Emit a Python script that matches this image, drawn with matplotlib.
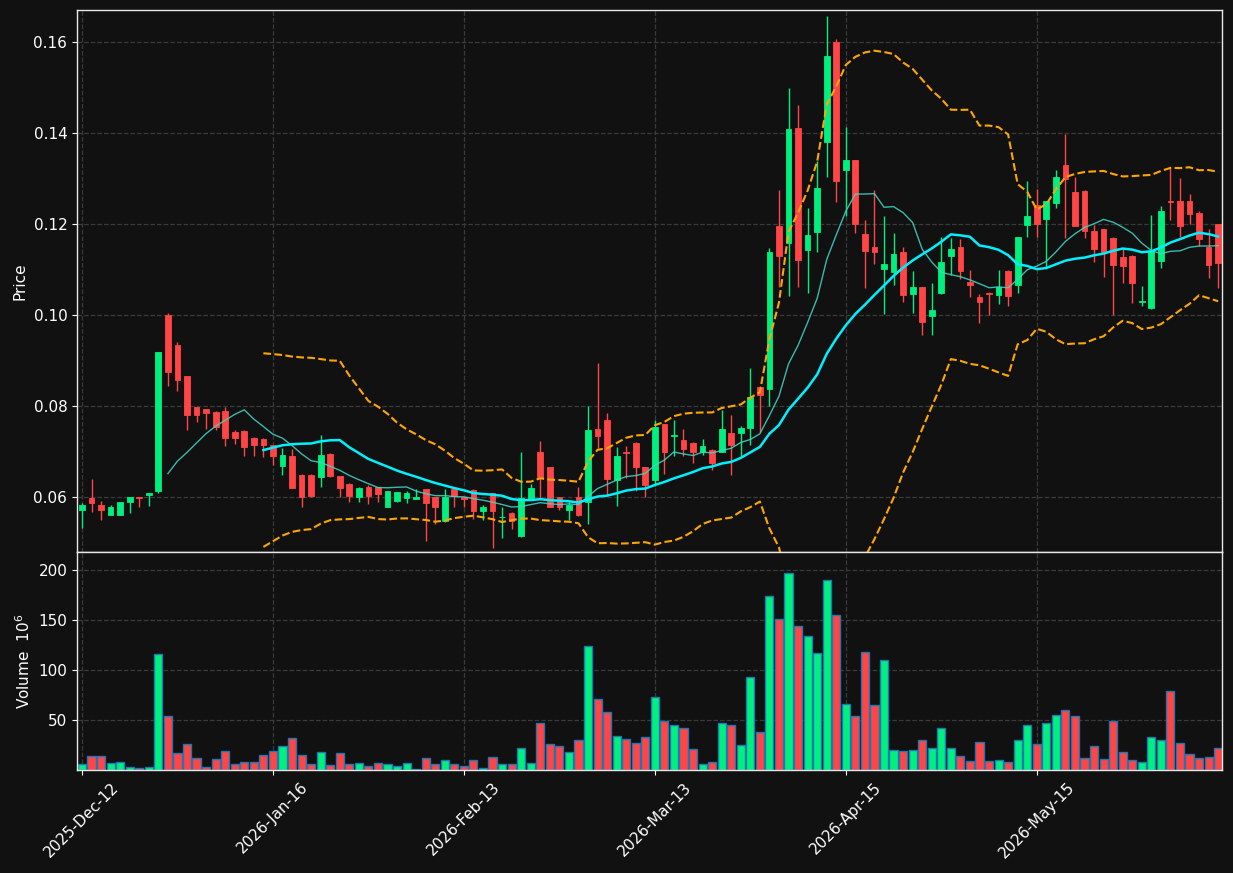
import numpy as np
import pandas as pd
import matplotlib
matplotlib.use("Agg")
import matplotlib.pyplot as plt

# ---------------- data ----------------
opens = [0.05722, 0.05985, 0.05832, 0.05598, 0.05598, 0.05883, 0.06000, 0.06037, 0.06124, 0.10000,
         0.09342, 0.08662, 0.07982, 0.07938, 0.07872, 0.07897, 0.07436, 0.07458, 0.07304, 0.07282,
         0.07143, 0.06674, 0.06909, 0.06491, 0.06491, 0.06432, 0.06953, 0.06469, 0.06293, 0.06000,
         0.06212, 0.06212, 0.05773, 0.05905, 0.05985, 0.05949, 0.06176, 0.06007, 0.05465, 0.06176,
         0.06007, 0.06161, 0.05685, 0.06088, 0.05553, 0.05656, 0.05135, 0.05956, 0.06997, 0.06667,
         0.06007, 0.05707, 0.06007, 0.05883, 0.07503, 0.07700, 0.06381, 0.06997, 0.07194, 0.06667,
         0.06370, 0.07595, 0.07330, 0.07255, 0.07194, 0.06990, 0.07043, 0.06990, 0.07398, 0.07398,
         0.07527, 0.08426, 0.08366, 0.11964, 0.11586, 0.14111, 0.11435, 0.11828, 0.13793, 0.16001,
         0.13181, 0.13408, 0.11790, 0.11503, 0.11004, 0.10944, 0.11390, 0.10467, 0.10611, 0.09976,
         0.10476, 0.11289, 0.11502, 0.10718, 0.10403, 0.10491, 0.10447, 0.10974, 0.10652, 0.11985,
         0.12418, 0.12110, 0.12454, 0.13297, 0.12703, 0.12733, 0.11853, 0.11897, 0.11700, 0.11282,
         0.11304, 0.10278, 0.10147, 0.11179, 0.12513, 0.12513, 0.12513, 0.12249, 0.11502, 0.12007]

highs = [0.05868, 0.06402, 0.05920, 0.05824, 0.05900, 0.06010, 0.06005, 0.06095, 0.09190, 0.10037,
         0.09408, 0.08662, 0.07982, 0.07940, 0.07880, 0.07971, 0.07466, 0.07480, 0.07310, 0.07290,
         0.07150, 0.07077, 0.07048, 0.06500, 0.06500, 0.07363, 0.06960, 0.06470, 0.06300, 0.06210,
         0.06256, 0.06220, 0.06140, 0.06110, 0.06125, 0.06176, 0.06180, 0.06010, 0.06176, 0.06180,
         0.06010, 0.06170, 0.05832, 0.06090, 0.05773, 0.05660, 0.06989, 0.06286, 0.07231, 0.06670,
         0.06010, 0.05897, 0.06220, 0.08000, 0.08939, 0.07840, 0.07092, 0.07121, 0.07200, 0.06670,
         0.07686, 0.07600, 0.07693, 0.07497, 0.07200, 0.07278, 0.07050, 0.07905, 0.07799, 0.07557,
         0.08827, 0.08430, 0.11465, 0.12750, 0.14988, 0.14610, 0.12350, 0.13378, 0.16568, 0.16061,
         0.14126, 0.13410, 0.12093, 0.12743, 0.12176, 0.11798, 0.11488, 0.10959, 0.10620, 0.10709,
         0.11714, 0.11700, 0.11670, 0.10982, 0.10462, 0.10500, 0.10989, 0.10980, 0.11720, 0.12945,
         0.12769, 0.12500, 0.13187, 0.13978, 0.13033, 0.12740, 0.11985, 0.11900, 0.11722, 0.11458,
         0.11310, 0.10637, 0.12198, 0.12396, 0.13231, 0.13011, 0.12659, 0.12286, 0.11890, 0.12010]

lows = [0.05320, 0.05671, 0.05488, 0.05598, 0.05595, 0.05650, 0.05773, 0.05795, 0.06088, 0.08450,
        0.08340, 0.07463, 0.07638, 0.07492, 0.07477, 0.07114, 0.07165, 0.06894, 0.06894, 0.06880,
        0.06696, 0.06484, 0.06190, 0.05780, 0.06010, 0.06220, 0.06450, 0.06000, 0.05890, 0.05890,
        0.05853, 0.05883, 0.05770, 0.05900, 0.05861, 0.05950, 0.05025, 0.05406, 0.05460, 0.05773,
        0.05773, 0.05516, 0.05502, 0.04879, 0.05098, 0.05297, 0.05130, 0.05950, 0.05980, 0.05770,
        0.05714, 0.05487, 0.05590, 0.05406, 0.07077, 0.06051, 0.05810, 0.06418, 0.06125, 0.06000,
        0.06234, 0.06499, 0.06900, 0.06907, 0.06756, 0.06930, 0.06590, 0.06990, 0.06484, 0.06907,
        0.07149, 0.07421, 0.08003, 0.10619, 0.10415, 0.10619, 0.10483, 0.11375, 0.13022, 0.12486,
        0.12168, 0.11805, 0.10600, 0.11125, 0.10014, 0.10656, 0.10278, 0.10037, 0.09560, 0.09560,
        0.10470, 0.10886, 0.10791, 0.10396, 0.09824, 0.10000, 0.10234, 0.10190, 0.10476, 0.11714,
        0.11714, 0.11055, 0.12352, 0.11700, 0.11950, 0.11692, 0.11165, 0.10835, 0.10000, 0.10703,
        0.10264, 0.10190, 0.10140, 0.11026, 0.12088, 0.11707, 0.12000, 0.11509, 0.10813, 0.10593]

closes = [0.05832, 0.05876, 0.05722, 0.05781, 0.05898, 0.06000, 0.05985, 0.06095, 0.09189, 0.08757,
          0.08581, 0.07792, 0.07806, 0.07836, 0.07528, 0.07290, 0.07290, 0.07092, 0.07136, 0.07136,
          0.06894, 0.06923, 0.06190, 0.06000, 0.06015, 0.06923, 0.06454, 0.06190, 0.06015, 0.06205,
          0.06015, 0.06073, 0.06139, 0.06110, 0.06088, 0.06007, 0.05875, 0.05773, 0.06007, 0.06015,
          0.05949, 0.05685, 0.05780, 0.05685, 0.05568, 0.05465, 0.05978, 0.06198, 0.06432, 0.05773,
          0.05773, 0.05831, 0.05597, 0.07480, 0.07334, 0.06388, 0.06909, 0.06975, 0.06652, 0.06256,
          0.07542, 0.06990, 0.07368, 0.07051, 0.06990, 0.07126, 0.06748, 0.07504, 0.07134, 0.07527,
          0.08207, 0.08237, 0.11390, 0.11291, 0.14096, 0.11201, 0.11768, 0.12796, 0.15683, 0.12939,
          0.13408, 0.11994, 0.11412, 0.11374, 0.11110, 0.11344, 0.10437, 0.10611, 0.09840, 0.10105,
          0.11172, 0.11458, 0.10974, 0.10659, 0.10278, 0.10462, 0.10608, 0.10425, 0.11714, 0.12183,
          0.11993, 0.12498, 0.13033, 0.12982, 0.11949, 0.11839, 0.11443, 0.11377, 0.11092, 0.11070,
          0.10700, 0.10315, 0.11399, 0.12286, 0.12476, 0.11949, 0.12212, 0.11663, 0.11092, 0.11136]

volumes = [6, 13.7, 13.7, 7, 8, 3, 1.7, 3, 116, 54,
           17, 26, 11.7, 2.7, 11, 19, 5.7, 8, 8, 15,
           19, 24, 31.7, 15, 6, 18, 5, 17, 6, 7,
           4, 7, 6, 3.7, 7, 1, 12, 6, 10, 6,
           3.7, 10, 2, 13, 6, 6, 22, 7, 47, 26,
           24, 18, 30, 124, 71, 58, 34, 31, 27, 33,
           73, 49, 45, 42, 21, 6, 8, 47, 45, 25,
           93, 38, 174, 151, 197, 144, 134, 117, 190, 155,
           66, 54, 118, 65, 110, 20, 19, 20, 30, 22,
           42, 22, 14, 9, 28, 9, 10, 8, 30, 45,
           26, 47, 55, 60, 54, 12, 24, 11, 49, 18,
           10, 8, 33, 30, 79, 27, 16, 12, 13, 22]

tick_labels = ["2025-Dec-12", "2026-Jan-16", "2026-Feb-13",
               "2026-Mar-13", "2026-Apr-15", "2026-May-15"]

# ---------------- styling ----------------
BG = "#111111"
UP = "#00f07f"
DOWN = "#ff4545"
VOL_EDGE = "#1f77b4"
GRID = "#3a3a3a"
FG = "white"
FS = 11

o = np.array(opens); h = np.array(highs); l = np.array(lows); c = np.array(closes)
v = np.array(volumes)
n = len(c)
x = np.arange(n)
up = c >= o
cols = np.where(up, UP, DOWN)

cs = pd.Series(c)
ma10 = cs.rolling(10).mean()
ma20 = cs.rolling(20).mean()
sd20 = cs.rolling(20).std(ddof=0)
bb_up = ma20 + 2 * sd20
bb_lo = ma20 - 2 * sd20

W, H = 1233, 873
fig = plt.figure(figsize=(W / 100, H / 100), dpi=100, facecolor=BG)
L, R = 77, 1222
ax1 = fig.add_axes([L / W, 1 - 552 / H, (R - L) / W, 542 / H])
ax2 = fig.add_axes([L / W, 1 - 770 / H, (R - L) / W, 218 / H], sharex=ax1)

for ax in (ax1, ax2):
    ax.set_facecolor(BG)
    for s in ax.spines.values():
        s.set_color("#e8e8e8")
        s.set_linewidth(1.0)
    ax.tick_params(colors=FG, labelsize=FS)
    ax.grid(True, linestyle="--", color=GRID, linewidth=0.9)
    ax.set_axisbelow(True)

# candles
ax1.vlines(x, l, h, colors=cols, linewidth=1.0, zorder=2)
body_bot = np.minimum(o, c)
body_h = np.abs(c - o)
ax1.bar(x, body_h, bottom=body_bot, width=0.6, color=cols, edgecolor=cols,
        linewidth=0.6, zorder=2)

# moving averages and bands
ax1.plot(x, ma10, color="#40d8c8", linewidth=1.0, alpha=0.85, zorder=3)
ax1.plot(x, ma20, color="#00f0ff", linewidth=1.8, zorder=3)
ax1.plot(x, bb_up, color="#ffa500", linewidth=1.5, linestyle="--", zorder=3)
ax1.plot(x, bb_lo, color="#ffa500", linewidth=1.5, linestyle="--", zorder=3)

ax1.set_ylim(0.047912, 0.167033)
ax1.set_yticks([0.06, 0.08, 0.10, 0.12, 0.14, 0.16])
ax1.set_yticklabels(["0.06", "0.08", "0.10", "0.12", "0.14", "0.16"])
ax1.set_ylabel("Price", color=FG, fontsize=FS)
ax1.tick_params(axis="x", labelbottom=False, length=0)

# volume
ax2.bar(x, v, width=0.85, color=cols, edgecolor=VOL_EDGE, linewidth=1.0, zorder=2)
ax2.set_ylim(0, 218)
ax2.set_yticks([50, 100, 150, 200])
ax2.set_ylabel("Volume  $10^{6}$", color=FG, fontsize=FS)

tick_pos = np.arange(0, n, 20)[:len(tick_labels)]
ax2.set_xticks(tick_pos)
ax2.set_xticklabels(tick_labels, rotation=45, ha="center")
ax2.set_xlim(-0.52, n - 0.6)

fig.savefig("out.png", dpi=100, facecolor=BG)
